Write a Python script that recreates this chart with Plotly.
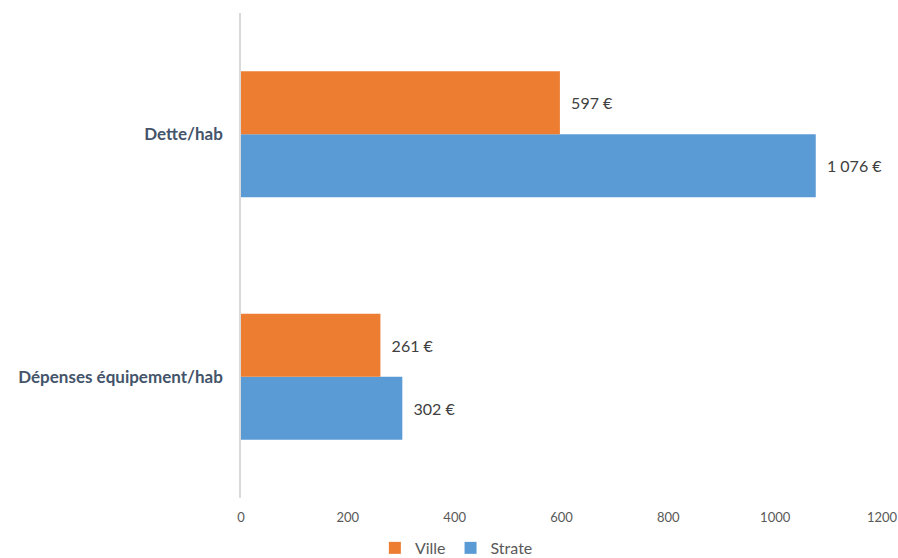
import plotly.graph_objects as go

categories = ["Dette/hab", "Dépenses équipement/hab"]
ville = [597, 261]
strate = [1076, 302]
ville_labels = ["597 €", "261 €"]
strate_labels = ["1 076 €", "302 €"]
x_ticks = [0, 200, 400, 600, 800, 1000, 1200]

FONT = "Lato, 'Open Sans', sans-serif"

fig = go.Figure()
fig.add_trace(go.Bar(
    y=categories, x=strate, name="Strate", orientation="h",
    marker=dict(color="#5B9BD5", line=dict(width=0)),
    text=strate_labels, texttemplate="  %{text}", textposition="outside", cliponaxis=False,
    textfont=dict(size=16, color="#404040", family=FONT),
))
fig.add_trace(go.Bar(
    y=categories, x=ville, name="Ville", orientation="h",
    marker=dict(color="#ED7D31", line=dict(width=0)),
    text=ville_labels, texttemplate="  %{text}", textposition="outside", cliponaxis=False,
    textfont=dict(size=16, color="#404040", family=FONT),
))

fig.update_layout(
    width=898, height=558,
    margin=dict(l=241, r=16, t=13, b=60, autoexpand=False),
    paper_bgcolor="white", plot_bgcolor="white",
    barmode="group", bargap=0.48, bargroupgap=0,
    font=dict(family=FONT),
    showlegend=True,
    legend=dict(orientation="h", x=0.336, xanchor="center", y=-0.103, yanchor="middle",
                traceorder="reversed", font=dict(size=16, color="#595959"),
                itemwidth=30, tracegroupgap=0),
    xaxis=dict(range=[0, 1200], tickvals=x_ticks, ticktext=[str(v) for v in x_ticks],
               showgrid=False, zeroline=False, showline=False,
               tickfont=dict(size=13, color="#595959"), ticks="", ticklabelstandoff=10),
    yaxis=dict(categoryorder="array", categoryarray=categories[::-1],
               showgrid=False, zeroline=False, showline=True, linecolor="#D9D9D9", linewidth=1.5,
               tickfont=dict(size=17, color="#44546A", family=FONT), ticks="",
               ticklabelstandoff=13,
               tickvals=categories, ticktext=["<b>" + c + "</b>" for c in categories]),
)

fig.write_html("out.html")
